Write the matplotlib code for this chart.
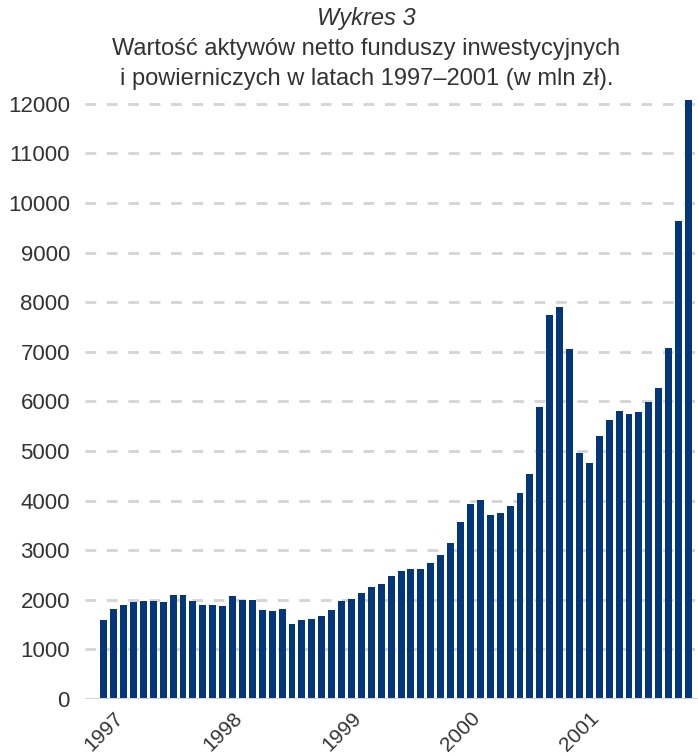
import matplotlib
matplotlib.use("Agg")
import matplotlib.pyplot as plt
import numpy as np

plt.rcParams['font.family'] = ['Liberation Sans', 'DejaVu Sans']

# Monthly net asset value, Jan 1997 - Dec 2001 (mln zł)
values_1997 = [1600, 1820, 1900, 1960, 1980, 1980, 1960, 2100, 2100, 1980, 1900, 1900]
values_1998 = [1880, 2080, 2000, 2000, 1800, 1780, 1820, 1510, 1590, 1610, 1670, 1790]
values_1999 = [1970, 2010, 2130, 2250, 2310, 2475, 2575, 2615, 2615, 2740, 2900, 3140]
values_2000 = [3565, 3930, 4010, 3710, 3750, 3890, 4150, 4535, 5890, 7750, 7910, 7060]
values_2001 = [4960, 4760, 5300, 5625, 5810, 5750, 5790, 5990, 6270, 7080, 9640, 12080]
years = ["1997", "1998", "1999", "2000", "2001"]
y_ticks = list(range(0, 12001, 1000))

values = values_1997 + values_1998 + values_1999 + values_2000 + values_2001
x = np.arange(len(values))

text_color = "#333333"
bar_color = "#03377a"
grid_color = "#d4d4d4"

fig = plt.figure(figsize=(6.98, 7.56), dpi=100)
ax = fig.add_axes([0.122, 0.0754, 0.878, 0.797])

ax.bar(x, values, width=0.7, color=bar_color, zorder=3)

ax.set_ylim(0, 12150)
ax.set_xlim(-1.87, len(values) - 0.04)

ax.set_yticks(y_ticks)
ax.set_yticklabels([str(v) for v in y_ticks], fontsize=16, color=text_color)
for v in y_ticks[1:]:
    ax.axhline(v, color=grid_color, linewidth=2.0, dashes=(3.85, 3.85), zorder=1)
ax.axhline(0, color=grid_color, linewidth=2.2, zorder=4)

ax.set_xticks(x[::12])
ax.set_xticklabels(years, rotation=45, ha='center', va='top', fontsize=15, color=text_color)

ax.tick_params(axis='y', length=0, pad=11)
ax.tick_params(axis='x', length=0, pad=7)
for s in ax.spines.values():
    s.set_visible(False)

title_x = 0.525
fig.text(title_x, 0.976, "Wykres 3", ha='center', va='center', fontsize=17,
         style='italic', color=text_color)
fig.text(title_x, 0.935, "Wartość aktywów netto funduszy inwestycyjnych",
         ha='center', va='center', fontsize=17, color=text_color)
fig.text(title_x, 0.895, "i powierniczych w latach 1997–2001 (w mln zł).",
         ha='center', va='center', fontsize=17, color=text_color)

fig.savefig("out.png", dpi=100)
